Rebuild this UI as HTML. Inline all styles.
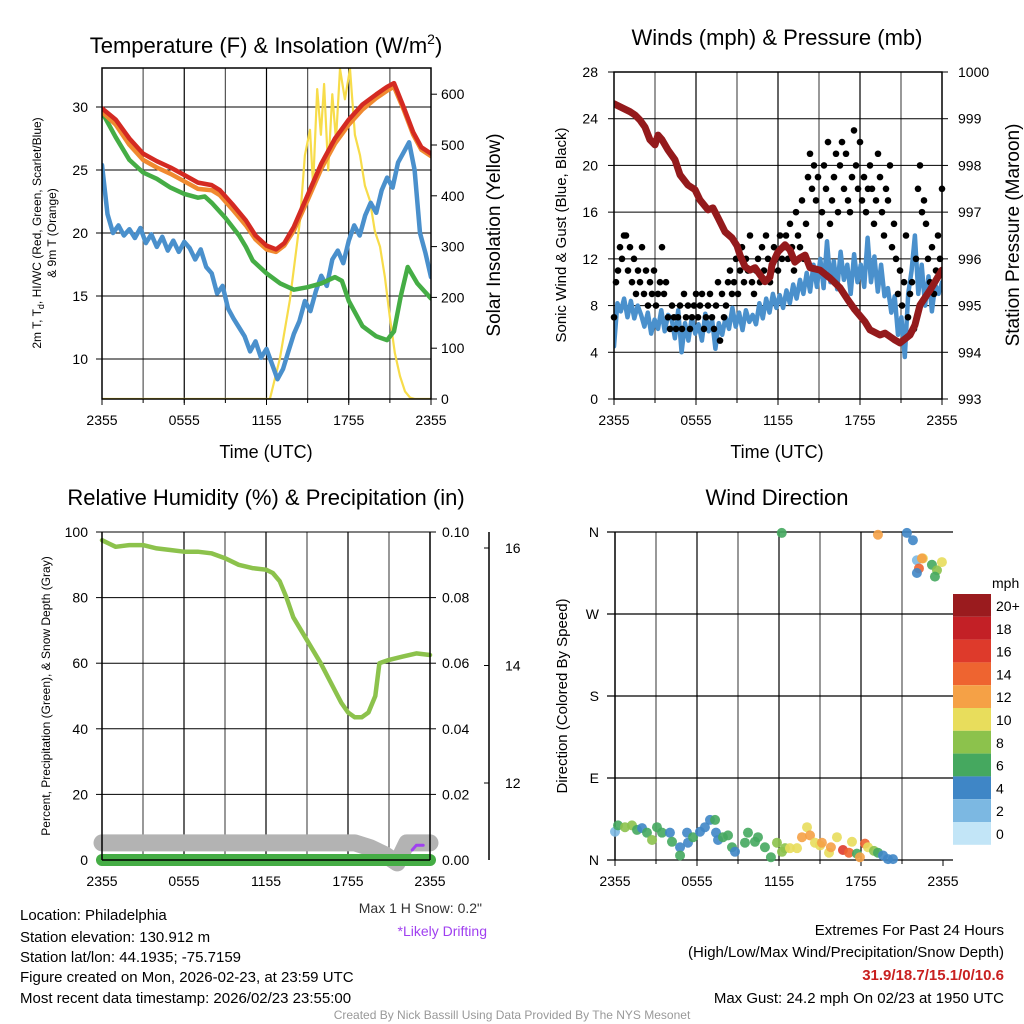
<!DOCTYPE html>
<html><head><meta charset="utf-8"><style>
html,body{margin:0;padding:0;background:#fff;}
svg{display:block;font-family:"Liberation Sans",Arial,sans-serif;}
</style></head><body>
<svg id="c" width="1024" height="1024" viewBox="0 0 1024 1024">
<defs>
<clipPath id="cp1"><rect x="102" y="68" width="329" height="331"/></clipPath>
<clipPath id="cp2"><rect x="614" y="72" width="328" height="327"/></clipPath>
</defs>
<rect width="1024" height="1024" fill="#fff"/>
<text x="266" y="53" font-size="22" text-anchor="middle">Temperature (F) &amp; Insolation (W/m<tspan font-size="14" dy="-9">2</tspan><tspan dy="9">)</tspan></text>
<text x="777" y="45" font-size="22" text-anchor="middle">Winds (mph) &amp; Pressure (mb)</text>
<text x="266" y="505" font-size="22" text-anchor="middle">Relative Humidity (%) &amp; Precipitation (in)</text>
<text x="777" y="505" font-size="22" text-anchor="middle">Wind Direction</text>
<text x="266" y="458" font-size="18" text-anchor="middle">Time (UTC)</text>
<text x="777" y="458" font-size="18" text-anchor="middle">Time (UTC)</text>
<text transform="translate(41,233) rotate(-90)" font-size="12" text-anchor="middle">2m T, T<tspan font-size="9" dy="3">d</tspan><tspan dy="-3">, HI/WC (Red, Green, Scarlet/Blue)</tspan></text>
<text transform="translate(56,233) rotate(-90)" font-size="12" text-anchor="middle">&amp; 9m T (Orange)</text>
<text transform="translate(500,235) rotate(-90)" font-size="19" text-anchor="middle">Solar Insolation (Yellow)</text>
<text transform="translate(566,235) rotate(-90)" font-size="15" text-anchor="middle">Sonic Wind &amp; Gust (Blue, Black)</text>
<text transform="translate(1019,235) rotate(-90)" font-size="19" text-anchor="middle">Station Pressure (Maroon)</text>
<text transform="translate(50,696) rotate(-90)" font-size="12" text-anchor="middle">Percent, Precipitation (Green), &amp; Snow Depth (Gray)</text>
<text transform="translate(567,696) rotate(-90)" font-size="15" text-anchor="middle">Direction (Colored By Speed)</text>
<g font-size="15">
<text x="20" y="920">Location: Philadelphia</text>
<text x="20" y="942">Station elevation: 130.912 m</text>
<text x="20" y="962">Station lat/lon: 44.1935; -75.7159</text>
<text x="20" y="982">Figure created on Mon, 2026-02-23, at 23:59 UTC</text>
<text x="20" y="1003">Most recent data timestamp: 2026/02/23 23:55:00</text>
</g>
<text x="482" y="913" font-size="14" fill="#333" text-anchor="end">Max 1 H Snow: 0.2"</text>
<text x="487" y="936" font-size="14" fill="#a040f0" text-anchor="end">*Likely Drifting</text>
<g font-size="15" text-anchor="end">
<text x="1004" y="935">Extremes For Past 24 Hours</text>
<text x="1004" y="957">(High/Low/Max Wind/Precipitation/Snow Depth)</text>
<text x="1004" y="980" fill="#c82020" font-weight="bold">31.9/18.7/15.1/0/10.6</text>
<text x="1004" y="1003">Max Gust: 24.2 mph On 02/23 at 1950 UTC</text>
</g>
<text x="512" y="1019" font-size="12" fill="#999" text-anchor="middle">Created By Nick Bassill Using Data Provided By The NYS Mesonet</text>
<g id="g"></g>
</svg>
<script>
// ---- Panel 1 data ----
const redT=[0,1,2,3,4,5,6,7,8,8.6,9.5,10.5,11.2,12,12.7,13.3,14,15,16,17,18,19,20,20.8,21.3,22,22.7,23.3,24];
const redV=[29.9,29.0,27.5,26.3,25.7,25.2,24.6,24.0,23.8,23.4,22.3,21.0,19.8,19.0,18.7,19.2,20.5,23.0,25.5,27.5,29.0,30.2,31.0,31.6,31.9,30.0,28.0,26.8,26.3];
const orgV=[29.6,28.6,27.0,25.8,25.2,24.7,24.1,23.5,23.4,23.0,21.9,20.6,19.5,18.7,18.5,19.0,20.2,22.6,25.1,27.1,28.6,29.8,30.7,31.3,31.6,29.8,27.8,26.6,26.1];
const grnT=[0,1,2,3,4,5,6,7,7.5,8,9,10,10.5,11,12,13,14,15,16,17,17.5,18,19,20,20.8,21.3,21.8,22.3,23,24];
const grnV=[29.6,27.6,25.8,24.8,24.3,23.6,23.1,22.8,22.9,22.4,21.2,19.8,18.9,17.8,16.8,16.0,15.5,15.7,16.0,16.5,16.2,14.6,12.6,11.8,11.5,12.2,15.0,17.3,16.0,14.8];
const dewV=[25.4,21.5,20.0,20.6,19.8,20.3,19.6,20.4,19.2,19.9,18.9,19.7,18.6,19.4,18.5,19.3,18.8,17.9,18.7,17.3,16.8,15.2,15.8,14.0,13.2,12.5,11.8,10.6,11.4,10.1,10.8,9.6,8.4,9.2,10.6,12.0,13.0,14.6,13.8,15.4,16.6,15.8,17.9,18.6,17.6,19.4,20.6,19.8,21.4,22.4,21.6,23.4,24.4,23.6,25.6,26.4,27.2,25.0,20.0,18.4,16.5];
const solT=[0,12.25,12.98,13.71,14.44,14.8,15.17,15.4,15.7,15.97,16.2,16.5,16.8,17.07,17.36,17.72,18.09,18.45,18.82,19.18,19.55,19.91,20.28,20.64,21.0,21.37,21.74,22.1,22.47,22.83,24];
const solV=[0,0,80,195,350,480,530,420,610,520,620,450,600,510,650,590,650,520,480,420,390,330,300,240,160,90,45,15,3,0,0];
const tempTicks=[10,15,20,25,30];
const solTicks=[0,100,200,300,400,500,600];
const timeLabels=["2355","0555","1155","1755","2355"];
// ---- Panel 2 data ----
const presT=[0,1.17,1.54,1.9,2.27,2.63,3.0,3.22,3.51,3.95,4.46,4.83,5.41,5.93,6.29,6.88,7.24,7.61,8.12,8.63,9.0,9.22,9.59,9.95,10.32,10.68,11.05,11.41,11.56,12.0,12.51,12.88,13.24,13.61,13.98,14.34,15.07,15.8,16.54,17.12,17.63,18.37,18.73,19.46,19.83,20.56,20.93,21.66,22.02,22.39,23.12,24];
const presV=[999.32,999.15,999.08,998.97,998.82,998.55,998.44,998.65,998.55,998.33,998.12,997.8,997.58,997.48,997.26,997.05,997.09,996.88,996.58,996.45,996.28,996.08,995.83,995.76,995.81,995.66,995.51,995.61,995.87,996.15,996.3,996.19,995.93,996.02,996.08,995.81,995.76,995.59,995.38,995.12,994.91,994.65,994.48,994.37,994.41,994.26,994.2,994.37,994.58,995.01,995.33,995.76];
const windV=[4.5,8.2,7.5,8.6,7.0,8.4,6.9,8.0,7.2,6.2,7.4,5.6,6.8,6.0,7.6,5.8,7.2,6.9,5.2,7.6,4.0,6.5,5.0,7.0,5.6,6.4,5.0,7.3,5.8,6.8,4.3,6.5,5.5,7.0,6.0,7.8,6.2,7.4,5.9,7.6,6.6,7.2,6.4,8.2,6.9,8.6,7.4,9.0,7.8,8.9,7.8,9.3,8.2,9.8,8.6,10.2,9.0,10.8,9.2,11.5,9.6,12.0,9.5,13.5,10.0,11.8,9.4,12.6,10.2,11.5,9.0,12.4,10.0,11.5,9.6,13.8,10.0,12.2,9.2,11.5,8.8,9.5,7.4,8.8,5.5,7.0,3.6,9.0,11.0,14.0,9.0,11.5,8.0,10.5,7.5,9.8,9.0,10.0];
const gustV=[7,10,11,13,12,14,14,11,13,10,12,9,11,10,13,9,11,8,10,9,11,8,9,10,13,9,10,7,6,8,7,6,7,8,6,9,7,8,6,7,8,9,7,8,9,6,7,8,9,7,6,8,10,5,9,7,8,10,11,9,10,12,9,11,13,10,12,11,14,10,9,11,12,10,13,11,14,12,10,11,13,12,11,14,12,13,14,12,15,13,11,16,14,13,17,12,15,19,21,18,20,17,19,14,16,20,18,22,15,17,19,21,16,20,22,18,21,17,16,19,23,20,18,22,17,19,16,18,20,18,15,17,21,19,16,14,18,17,20,13,15,12,9,11,8,10,14,7,9,10,6,12,18,20,16,17,15,12,10,13,9,11,14,12,18];
const windTicks=[0,4,8,12,16,20,24,28];
const presTicks=[993,994,995,996,997,998,999,1000];
// ---- Panel 3 data ----
const rhT=[0,0.5,1,2,3,4,5,6,7,8,9,10,11,12,12.5,13,13.5,14,15,16,17,17.5,18,18.5,19,19.5,20,20.3,21,22,23,24];
const rhV=[97.5,96.5,95.5,96,96,95,94.5,94,94,93.5,92,90,89,88.5,87.5,85,80,74,67,60,52,48,45,43.5,43.5,45,50,60,61,62,63,62.5];
const snowT=[0,17.5,18.5,19.6,20.7,21.6,22.3,23,24];
const snowV=[10.98,10.98,10.98,10.9,10.78,10.64,10.98,10.98,10.98];
const precT=[0,24];
const precV=[0,0];
const driftT=[22.7,23.0,23.5];
const driftV=[10.86,10.94,10.94];
const rhTicks=[0,20,40,60,80,100];
const precTicks=["0.00","0.02","0.04","0.06","0.08","0.10"];
const snowTicks=[12,14,16];
// ---- Panel 4 data ----
const wdT=[0,0.22,0.73,1.24,1.61,1.98,2.34,2.71,3.07,3.44,4.02,4.17,4.76,4.76,5.27,5.34,5.71,6.22,6.58,6.95,7.32,7.39,7.54,7.9,8.27,8.56,8.78,9.51,9.73,10.24,10.46,10.97,11.41,11.85,12.22,12.44,12.8,13.32,13.68,14.05,14.27,14.63,15.0,15.14,15.66,15.8,16.24,16.68,17.12,17.34,17.7,17.92,18.29,18.51,18.95,19.24,19.61,19.97,20.34,12.2,19.24,21.36,21.8,22.09,22.53,22.46,22.24,22.09,23.19,23.56,23.41,23.92];
const wdD=[31,38,36,38,33,35,30,22,36,30,30,20,14,5,30,19,25,31,36,44,44,30,22,25,27,14,9,19,30,20,25,14,3,19,9,13,13,13,25,36,27,19,16,19,8,14,25,11,8,20,7,3,18,14,10,8,5,1,1,359,357,359,351,329,331,331,320,315,324,318,311,327];
const wdS=[3,7,8,8,7,4,6,8,6,7,4,6,4,6,4,4,6,5,4,4,6,4,4,6,6,7,4,6,7,6,6,6,6,8,8,8,10,10,12,11,12,10,10,13,10,13,11,16,14,11,7,13,15,10,8,7,5,4,4,7,12,4,4,3,10,12,15,4,7,8,6,10];
const dirLabels=["N","E","S","W","N"];
const cbLabels=["20+","18","16","14","12","10","8","6","4","2","0"];
const cbColors=["#9a1b1e","#c32026","#de3a2b","#ee6430","#f5a146","#e8dd5c","#8cc24c","#45a85f","#3f86c6","#7cb8e2","#c2e5f7"];

const NS="http://www.w3.org/2000/svg";
const G=document.getElementById('g');
function mk(tag,attrs,parent){const e=document.createElementNS(NS,tag);for(const k in attrs)e.setAttribute(k,attrs[k]);(parent||G).appendChild(e);return e;}
function txt(x,y,s,anchor,size,parent){const e=mk('text',{x:x,y:y,'font-size':size||14,'text-anchor':anchor||'middle'},parent);e.textContent=s;return e;}
function path(pts){return pts.map((p,i)=>(i?'L':'M')+p[0].toFixed(1)+' '+p[1].toFixed(1)).join(' ');}

const P1={x0:102,x1:431,y0:68,y1:399};
const P2={x0:614,x1:942,y0:72,y1:399};
const P3={x0:102,x1:430,y0:532,y1:860};
const P4={x0:615,x1:943,y0:532,y1:860};
const xs=(P,h)=>P.x0+(P.x1-P.x0)*h/24;
const yT=v=>359-(v-10)*12.6;
const yS=v=>399-v*0.508;
const yW=v=>399-v*(327/28);
const yP=v=>399-(v-993)*(327/7);
const yR=v=>860-v*3.28;
const yPr=v=>860-v*3280;
const ySn=v=>783+(12-v)*58.75;
const yD=v=>860-v*(328/360);

function vgrid(P,name){
  for(let k=1;k<8;k++){
    const x=xs(P,k*3);
    const l=mk('line',{x1:x,x2:x,y1:P.y0,y2:P.y1,stroke:k%2?'#555':'#000','stroke-width':1.2});
    
    
  }
  timeLabels.forEach((s,i)=>{
    const x=xs(P,i*6);
    mk('line',{x1:x,x2:x,y1:P.y1,y2:P.y1+6,stroke:'#000'});
    const t=txt(x,P.y1+26,s,'middle',14);
    
    
  });
  for(let k=0;k<=24;k+=3){const x=xs(P,k);mk('line',{x1:x,x2:x,y1:P.y1,y2:P.y1+4,stroke:'#000'});}
}
function frame(P,name){
  const r=mk('rect',{x:P.x0,y:P.y0,width:P.x1-P.x0,height:P.y1-P.y0,fill:'none',stroke:'#000','stroke-width':1.5});
  
  
}
function line(pts,color,w,name,clip){
  const e=mk('path',{d:path(pts),fill:'none',stroke:color,'stroke-width':w,'stroke-linejoin':'round','stroke-linecap':'round'});
  if(clip)e.setAttribute('clip-path','url(#'+clip+')');
  
  
  return e;
}

// ===== Panel 1 =====
vgrid(P1,'temp');
tempTicks.forEach(v=>{
  const y=yT(v);
  mk('line',{x1:P1.x0,x2:P1.x1,y1:y,y2:y,stroke:'#000','stroke-width':1});
  mk('line',{x1:P1.x0-6,x2:P1.x0,y1:y,y2:y,stroke:'#000'});
  const t=txt(P1.x0-14,y+5,String(v),'end',14);
  
  
});
solTicks.forEach(v=>{
  const y=yS(v);
  mk('line',{x1:P1.x1,x2:P1.x1+6,y1:y,y2:y,stroke:'#000'});
  const t=txt(P1.x1+10,y+5,String(v),'start',14);
  
  
});
line(solT.map((h,i)=>[xs(P1,h),yS(solV[i])]),'#f7dc4a',2.2,'insolation-line','cp1');
line(dewV.map((v,i)=>[xs(P1,i*0.4),yT(v)]),'#4a90cc',4.5,'dewpoint-line','cp1');
line(grnT.map((h,i)=>[xs(P1,h),yT(grnV[i])]),'#45ad45',4.5,'heat-index-wind-chill-line','cp1');
line(redT.map((h,i)=>[xs(P1,h),yT(orgV[i])]),'#f08a30',4.5,'temp-9m-line','cp1');
line(redT.map((h,i)=>[xs(P1,h),yT(redV[i])]),'#d42a22',4.5,'temp-2m-line','cp1');
frame(P1,'temp');

// ===== Panel 2 =====
vgrid(P2,'wind');
windTicks.forEach(v=>{
  const y=yW(v);
  mk('line',{x1:P2.x0,x2:P2.x1,y1:y,y2:y,stroke:'#000','stroke-width':1});
  mk('line',{x1:P2.x0-6,x2:P2.x0,y1:y,y2:y,stroke:'#000'});
  const t=txt(P2.x0-16,y+5,String(v),'end',14);
  
  
});
presTicks.forEach(v=>{
  const y=yP(v);
  mk('line',{x1:P2.x1,x2:P2.x1+6,y1:y,y2:y,stroke:'#000'});
  const t=txt(P2.x1+16,y+5,String(v),'start',14);
  
  
});
line(windV.map((v,i)=>[xs(P2,i*24/(windV.length-1)),yW(v)]),'#4a90cc',4.5,'sonic-wind-line','cp2');
gustV.forEach((v,i)=>{
  const c=mk('circle',{cx:xs(P2,i*24/(gustV.length-1)),cy:yW(v),r:3.3,fill:'#000'});
  
  
});
line(presT.map((h,i)=>[xs(P2,h),yP(presV[i])]),'#941a1c',7,'pressure-line','cp2');
frame(P2,'wind');

// ===== Panel 3 =====
vgrid(P3,'humidity');
rhTicks.forEach((v,i)=>{
  const y=yR(v);
  mk('line',{x1:P3.x0,x2:P3.x1,y1:y,y2:y,stroke:'#000','stroke-width':1});
  mk('line',{x1:P3.x0-6,x2:P3.x0,y1:y,y2:y,stroke:'#000'});
  mk('line',{x1:P3.x1,x2:P3.x1+6,y1:y,y2:y,stroke:'#000'});
  const t=txt(P3.x0-14,y+5,String(v),'end',14);
  
  
  const t2=txt(P3.x1+12,y+5,precTicks[i],'start',14);
  
  
});
const sa=mk('line',{x1:489,x2:489,y1:532,y2:860,stroke:'#000','stroke-width':1.5});


snowTicks.forEach(v=>{
  const y=ySn(v);
  mk('line',{x1:484,x2:489,y1:y,y2:y,stroke:'#000'});
  const t=txt(505,y+5,String(v),'start',14);
  
  
});
line(snowT.map((h,i)=>[xs(P3,h),ySn(snowV[i])]),'#b3b3b3',17,'snow-depth-line');
line(precT.map((h,i)=>[xs(P3,h),yPr(precV[i])]),'#45ad45',12,'precip-line');
line(driftT.map((h,i)=>[xs(P3,h),ySn(driftV[i])]),'#a040f0',3,'drifting-line');
line(rhT.map((h,i)=>[xs(P3,h),yR(rhV[i])]),'#8cc24c',4.5,'humidity-line');
mk('line',{x1:P3.x0,x2:P3.x0,y1:P3.y0,y2:P3.y1,stroke:'#000','stroke-width':1.5});
mk('line',{x1:P3.x1,x2:P3.x1,y1:P3.y0,y2:P3.y1,stroke:'#000','stroke-width':1.5});
mk('line',{x1:P3.x0,x2:P3.x1,y1:P3.y1,y2:P3.y1,stroke:'#000','stroke-width':1.5});

// ===== Panel 4 =====
vgrid(P4,'direction');
dirLabels.forEach((s,i)=>{
  const y=yD(i*90);
  mk('line',{x1:P4.x0-8,x2:P4.x1+10,y1:y,y2:y,stroke:'#000','stroke-width':1.2});
  const t=txt(P4.x0-16,y+5,s,'end',14);
  
  
});
mk('line',{x1:P4.x0,x2:P4.x0,y1:P4.y0,y2:P4.y1,stroke:'#000','stroke-width':1.5});
function spdColor(s){let i=Math.floor(s/2);if(i>10)i=10;if(i<0)i=0;return cbColors[10-i];}
wdT.forEach((h,i)=>{
  const c=mk('circle',{cx:xs(P4,h),cy:yD(wdD[i]),r:5,fill:spdColor(wdS[i]),'fill-opacity':0.9});
  
  
});
const mph=txt(992,588,'mph','start',14);


cbLabels.forEach((s,i)=>{
  const y=594+i*22.8;
  const r=mk('rect',{x:953,y:y,width:38,height:22.8,fill:cbColors[i]});
  
  
  const t=txt(996,y+17,s,'start',14);
  
  
});
</script>
</body></html>
